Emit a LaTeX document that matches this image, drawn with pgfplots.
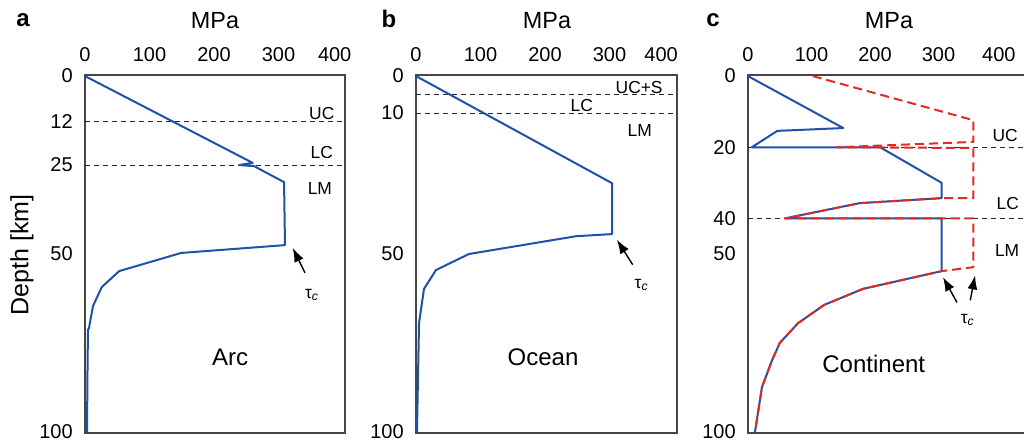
\documentclass[border=0pt]{standalone}
\usepackage{pgfplots}
\pgfplotsset{compat=1.18}
\usepackage{fontspec}
\setmainfont{Liberation Sans}
\usetikzlibrary{arrows.meta}
\definecolor{pblue}{RGB}{30,82,170}
\definecolor{pred}{RGB}{228,40,36}
\definecolor{frame}{RGB}{70,70,70}
\pgfplotsset{
  panel/.style={
    scale only axis,
    anchor=north west,
    y dir=reverse,
    ymin=-0.3, ymax=100.3,
    xmin=0,
    height=179pt,
    axis line style={frame, line width=0.6pt},
    xticklabel pos=upper,
    tick style={draw=none},
    ticklabel style={font=\fontsize{10}{11}\selectfont},
    /pgf/number format/assume math mode=true,
    xticklabel shift=3.2pt,
    yticklabel shift=2.6pt,
    clip mode=individual,
  },
  curve/.style={pblue, line width=1pt, line join=round},
  redc/.style={pred, line width=1pt, line join=round, dash pattern=on 4.5pt off 2.5pt},
  layer/.style={black!85, line width=0.5pt, dash pattern=on 2.5pt off 2pt},
}
\newcommand{\lay}{\fontsize{8.7}{10}\selectfont}
\newcommand{\bigf}{\fontsize{12}{14}\selectfont}
\newcommand{\tauc}{τ\textsubscript{\textit{c}}}
\tikzset{arr/.style={-{Latex[length=7pt,width=5pt]}, line width=0.7pt, black}}
\begin{document}
\begin{tikzpicture}
\path[use as bounding box] (0,0) rectangle (512pt,-220.5pt);
\clip (0,0) rectangle (512pt,-220.5pt);

% ---------- panel a
\begin{axis}[panel, at={(42.5pt,-37.5pt)}, width=130pt, xmax=403,
  xtick={0,100,200,300,387}, xticklabels={0,100,200,300,400},
  ytick={0,12.9,25,50,100}, yticklabels={0,12,25,50,100}]
\addplot[layer] coordinates {(0,12.9) (403,12.9)};
\addplot[layer] coordinates {(0,25) (403,25)};
\addplot[curve] coordinates {(0,0) (260,24.4) (239,25) (262,25.3) (308.5,29.8) (310,47.5) (149,49.7) (53,54.8) (26,59.3) (12.4,64.6) (6.2,70.8) (4.7,71.3) (4,80) (3.1,100)};
\node[font=\lay] at (axis cs:367,10.4) {UC};
\node[font=\lay] at (axis cs:367,21.6) {LC};
\node[font=\lay] at (axis cs:364,31.7) {LM};
\node[font=\bigf] at (axis cs:225,79) {Arc};
\node[font=\lay] at (axis cs:352,61.5) {\tauc};
\draw[arr] (axis cs:341,55.3) -- (axis cs:322,48.3);
\end{axis}

% ---------- panel b
\begin{axis}[panel, at={(208pt,-37.5pt)}, width=130.5pt, xmax=404.7,
  xtick={0,100,200,300,380}, xticklabels={0,100,200,300,400},
  ytick={0,10.4,50,100}, yticklabels={0,10,50,100}]
\addplot[layer] coordinates {(0,5.3) (404.7,5.3)};
\addplot[layer] coordinates {(0,10.4) (404.7,10.4)};
\addplot[curve] coordinates {(0,0) (304,30.1) (304,44.4) (248,45) (82,50) (31,54.5) (12.4,59.8) (4.7,69.4) (1.5,100)};
\node[font=\lay] at (axis cs:346,3.1) {UC+S};
\node[font=\lay] at (axis cs:257,8.4) {LC};
\node[font=\lay] at (axis cs:347,15.4) {LM};
\node[font=\bigf] at (axis cs:197,79) {Ocean};
\node[font=\lay] at (axis cs:350,58.7) {\tauc};
\draw[arr] (axis cs:336,53) -- (axis cs:311.6,46);
\end{axis}

% ---------- panel c
\begin{axis}[panel, at={(374pt,-37.5pt)}, width=141pt, xmax=444,
  xtick={0,100,200,300,395}, xticklabels={0,100,200,300,400},
  ytick={0,20,40,50,100}, yticklabels={0,20,40,50,100}]
\addplot[layer] coordinates {(0,20) (444,20)};
\addplot[layer] coordinates {(0,40) (444,40)};
\addplot[curve] coordinates {(0,0) (150,14.6) (46,15.4) (6,20) (208,20) (305,30) (305,34.3) (176,35.7) (58,40) (305,40) (305,54.8) (181,59.8) (120,64.3) (79,69.4) (50,75) (38,79.8) (22,87.4) (11,100)};
\addplot[redc] coordinates {(102,0) (355,12.4) (355,18.5) (140,20) (355,20.2) (355,34.3) (305,34.3) (176,35.7) (58,40) (355,40) (355,53.7) (305,54.8) (181,59.8) (120,64.3) (79,69.4) (50,75) (38,79.8) (22,87.4) (11,100)};
\node[font=\lay] at (axis cs:405,16.6) {UC};
\node[font=\lay] at (axis cs:409,35.7) {LC};
\node[font=\lay] at (axis cs:408,48.9) {LM};
\node[font=\bigf] at (axis cs:198,81) {Continent};
\node[font=\lay] at (axis cs:346,68.5) {\tauc};
\draw[arr] (axis cs:329,63.6) -- (axis cs:307,56.5);
\draw[arr] (axis cs:350,63) -- (axis cs:357.5,56);
\end{axis}

% ---------- titles and labels
\begin{scope}[x=0.5pt, y=-0.5pt]
\node[font=\fontsize{11.7}{13}\selectfont] at (215,21) {MPa};
\node[font=\fontsize{11.7}{13}\selectfont] at (547,21) {MPa};
\node[font=\fontsize{11.7}{13}\selectfont] at (889,21) {MPa};
\node[font=\fontsize{12}{14}\bfseries] at (23,20) {a};
\node[font=\fontsize{12}{14}\bfseries] at (389,19) {b};
\node[font=\fontsize{12}{14}\bfseries] at (713,20) {c};
\node[font=\fontsize{12.5}{14}\selectfont, rotate=90] at (22,255) {Depth [km]};
\end{scope}
\end{tikzpicture}
\end{document}
